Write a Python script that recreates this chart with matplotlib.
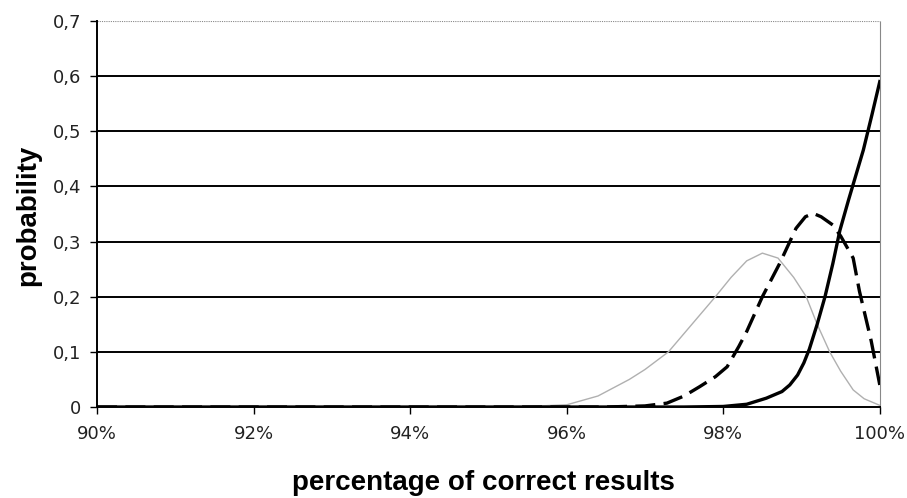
import matplotlib
matplotlib.use("Agg")
import matplotlib.pyplot as plt
from matplotlib.ticker import FixedLocator

# Data
x_gray = [90, 95.0, 95.5, 96.0, 96.4, 96.8, 97.0, 97.3, 97.6, 97.9, 98.1, 98.3, 98.5,
          98.7, 98.9, 99.06, 99.2, 99.36, 99.5, 99.66, 99.8, 100]
y_gray = [0, 0, 0.001, 0.004, 0.02, 0.05, 0.068, 0.1, 0.15, 0.2, 0.235, 0.265, 0.279,
          0.27, 0.235, 0.2, 0.15, 0.1, 0.065, 0.031, 0.015, 0.003]

x_dash = [90, 96.5, 97.0, 97.28, 97.5, 97.7, 97.9, 98.05, 98.2, 98.3, 98.5, 98.72, 98.93,
          99.05, 99.15, 99.25, 99.4, 99.5, 99.66, 99.74, 99.89, 100]
y_dash = [0, 0, 0.002, 0.007, 0.02, 0.037, 0.055, 0.073, 0.11, 0.137, 0.2, 0.26, 0.324,
          0.345, 0.351, 0.345, 0.33, 0.31, 0.27, 0.21, 0.12, 0.04]

x_solid = [90, 97.5, 98.0, 98.3, 98.55, 98.75, 98.85, 98.95, 99.03, 99.1, 99.2, 99.3, 99.4,
           99.49, 99.6, 99.79, 99.9, 100]
y_solid = [0, 0, 0.001, 0.005, 0.016, 0.028, 0.04, 0.058, 0.08, 0.105, 0.15, 0.2, 0.26,
           0.32, 0.375, 0.466, 0.53, 0.59]

x_ticks = [90, 92, 94, 96, 98, 100]
x_tick_labels = ["90%", "92%", "94%", "96%", "98%", "100%"]
y_ticks = [0, 0.1, 0.2, 0.3, 0.4, 0.5, 0.6, 0.7]
y_tick_labels = ["0", "0,1", "0,2", "0,3", "0,4", "0,5", "0,6", "0,7"]

fig = plt.figure(figsize=(9.07, 4.98), dpi=100)
ax = fig.add_axes([0.107, 0.1827, 0.863, 0.7753])

# gridlines
for v in y_ticks[1:-1]:
    ax.axhline(v, color='black', lw=1.4, zorder=1)
ax.axhline(0.7, color='#888888', lw=0.8, ls=(0, (1, 1)), zorder=1)

ax.plot(x_gray, y_gray, color='#b0b0b0', lw=1.0, zorder=2)
ax.plot(x_dash, y_dash, color='black', lw=2.4, dashes=(6, 2.5), zorder=3)
ax.plot(x_solid, y_solid, color='black', lw=2.4, zorder=4)

ax.set_xlim(90, 100)
ax.set_ylim(0, 0.7)
ax.xaxis.set_major_locator(FixedLocator(x_ticks))
ax.set_xticklabels(x_tick_labels, family='DejaVu Sans')
ax.yaxis.set_major_locator(FixedLocator(y_ticks))
ax.set_yticklabels(y_tick_labels, family='DejaVu Sans')

ax.tick_params(axis='both', direction='out', length=5, width=1.0, color='black',
               labelsize=13, labelcolor='#222222')
ax.tick_params(axis='x', pad=8)
ax.tick_params(axis='y', pad=6.5)

ax.spines['top'].set_visible(False)
ax.spines['right'].set_color('#888888')
ax.spines['right'].set_linewidth(0.8)
ax.spines['right'].set_linestyle((0, (1, 1)))
ax.spines['left'].set_linewidth(1.4)
ax.spines['bottom'].set_linewidth(1.4)

fig.text(0.533, 0.016, "percentage of correct results", family='Liberation Sans',
         fontsize=20, fontweight='bold', ha='center', va='baseline')
fig.text(0.0314, 0.568, "probability", family='Liberation Sans',
         fontsize=20, fontweight='bold', ha='center', va='center', rotation=90)

fig.savefig("out.png", dpi=100)
